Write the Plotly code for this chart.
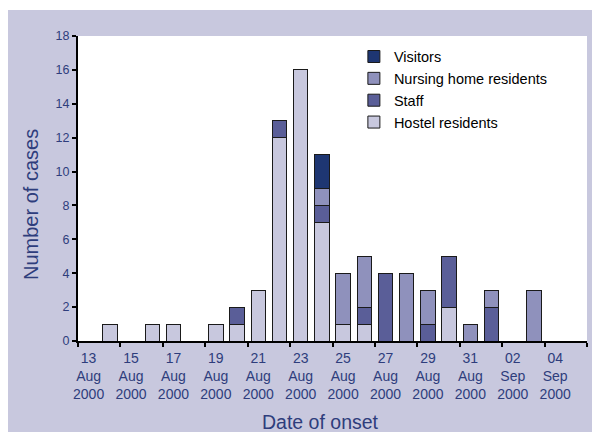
import plotly.graph_objects as go

dates = ["13 Aug 2000", "14 Aug 2000", "15 Aug 2000", "16 Aug 2000", "17 Aug 2000", "18 Aug 2000",
         "19 Aug 2000", "20 Aug 2000", "21 Aug 2000", "22 Aug 2000", "23 Aug 2000", "24 Aug 2000",
         "25 Aug 2000", "26 Aug 2000", "27 Aug 2000", "28 Aug 2000", "29 Aug 2000", "30 Aug 2000",
         "31 Aug 2000", "01 Sep 2000", "02 Sep 2000", "03 Sep 2000", "04 Sep 2000", "05 Sep 2000"]
hostel = [0, 1, 0, 1, 1, 0, 1, 1, 3, 12, 16, 7, 1, 1, 0, 0, 0, 2, 0, 0, 0, 0, 0, 0]
staff = [0, 0, 0, 0, 0, 0, 0, 1, 0, 1, 0, 1, 0, 1, 4, 0, 1, 3, 0, 2, 0, 0, 0, 0]
nursing = [0, 0, 0, 0, 0, 0, 0, 0, 0, 0, 0, 1, 3, 3, 0, 4, 2, 0, 1, 1, 0, 3, 0, 0]
visitors = [0, 0, 0, 0, 0, 0, 0, 0, 0, 0, 0, 2, 0, 0, 0, 0, 0, 0, 0, 0, 0, 0, 0, 0]
y_ticks = list(range(0, 19, 2))

x = list(range(len(dates)))
label_idx = x[::2]
label_text = ["<br>".join(dates[i].split(" ")) for i in label_idx]
boundaries = [i - 0.5 for i in x[::2]] + [len(dates) - 0.5]

BLUE = "#2E3D7C"
LAV = "#C8C8DE"
series = [
    ("Hostel residents", hostel, "#C8C8DE"),
    ("Staff", staff, "#5A5E98"),
    ("Nursing home residents", nursing, "#8F91BC"),
    ("Visitors", visitors, "#1E3672"),
]

fig = go.Figure()
for name, vals, col in series:
    fig.add_trace(go.Bar(
        x=x, y=vals, name=name,
        marker=dict(color=col, line=dict(color="#1a1a1a", width=1)),
        width=0.68,
    ))

# page is offset by 8px body margin
OFF = 8
W, H = 600, 432
PL, PT, PR, PB = 78, 36, 587, 341  # plot area in page pixels
L, T = PL - OFF, PT - OFF
pw, ph = PR - PL, PB - PT
R = W - L - pw
B = H - T - ph


def px_x(p):
    return (p - PL) / pw


def px_y(p):
    return (PB - p) / ph


shapes = [
    dict(type="rect", xref="paper", yref="paper", layer="below",
         x0=px_x(8), x1=px_x(620), y0=px_y(450), y1=px_y(10),
         fillcolor=LAV, line=dict(width=0)),
    dict(type="rect", xref="paper", yref="paper", layer="below",
         x0=0, x1=1, y0=0, y1=1,
         fillcolor="#FFFFFF", line=dict(width=0)),
]

annotations = [
    dict(text="Number of cases", xref="paper", yref="paper",
         x=px_x(31), y=px_y(205), xanchor="center", yanchor="middle",
         textangle=-90, showarrow=False, font=dict(size=20, color=BLUE)),
    dict(text="Date of onset", xref="paper", yref="paper",
         x=px_x(320), y=px_y(422), xanchor="center", yanchor="middle",
         showarrow=False, font=dict(size=19.5, color=BLUE)),
]

fig.update_layout(
    barmode="stack",
    width=W, height=H,
    paper_bgcolor="#FFFFFF",
    plot_bgcolor="rgba(0,0,0,0)",
    margin=dict(l=L, r=R, t=T, b=B),
    shapes=shapes,
    annotations=annotations,
    font=dict(family="Liberation Sans, Arial, sans-serif", color=BLUE, size=12),
    showlegend=True,
    legend=dict(
        traceorder="reversed",
        x=0.542, y=0.985, xanchor="left", yanchor="top",
        bgcolor="rgba(255,255,255,0)",
        font=dict(color="#000000", size=14.5),
        itemwidth=30,
        tracegroupgap=0,
    ),
    xaxis=dict(
        range=[-0.5, len(dates) - 0.5],
        tickmode="array", tickvals=label_idx, ticktext=label_text,
        ticks="", showgrid=False, zeroline=False, automargin=False,
        showline=True, linecolor="#000000", linewidth=2,
        tickfont=dict(size=14, color=BLUE),
        ticklabelstandoff=3,
        minor=dict(tickmode="array", tickvals=boundaries, ticks="outside",
                   ticklen=4, tickwidth=2, tickcolor="#000000", showgrid=False),
        fixedrange=True,
    ),
    yaxis=dict(
        range=[0, 18], tickmode="array", tickvals=y_ticks,
        ticks="outside", ticklen=4, tickwidth=2, tickcolor="#000000",
        showgrid=False, zeroline=False, automargin=False,
        showline=True, linecolor="#000000", linewidth=2,
        tickfont=dict(size=12.5, color=BLUE),
    ),
)

fig.write_html("out.html")
